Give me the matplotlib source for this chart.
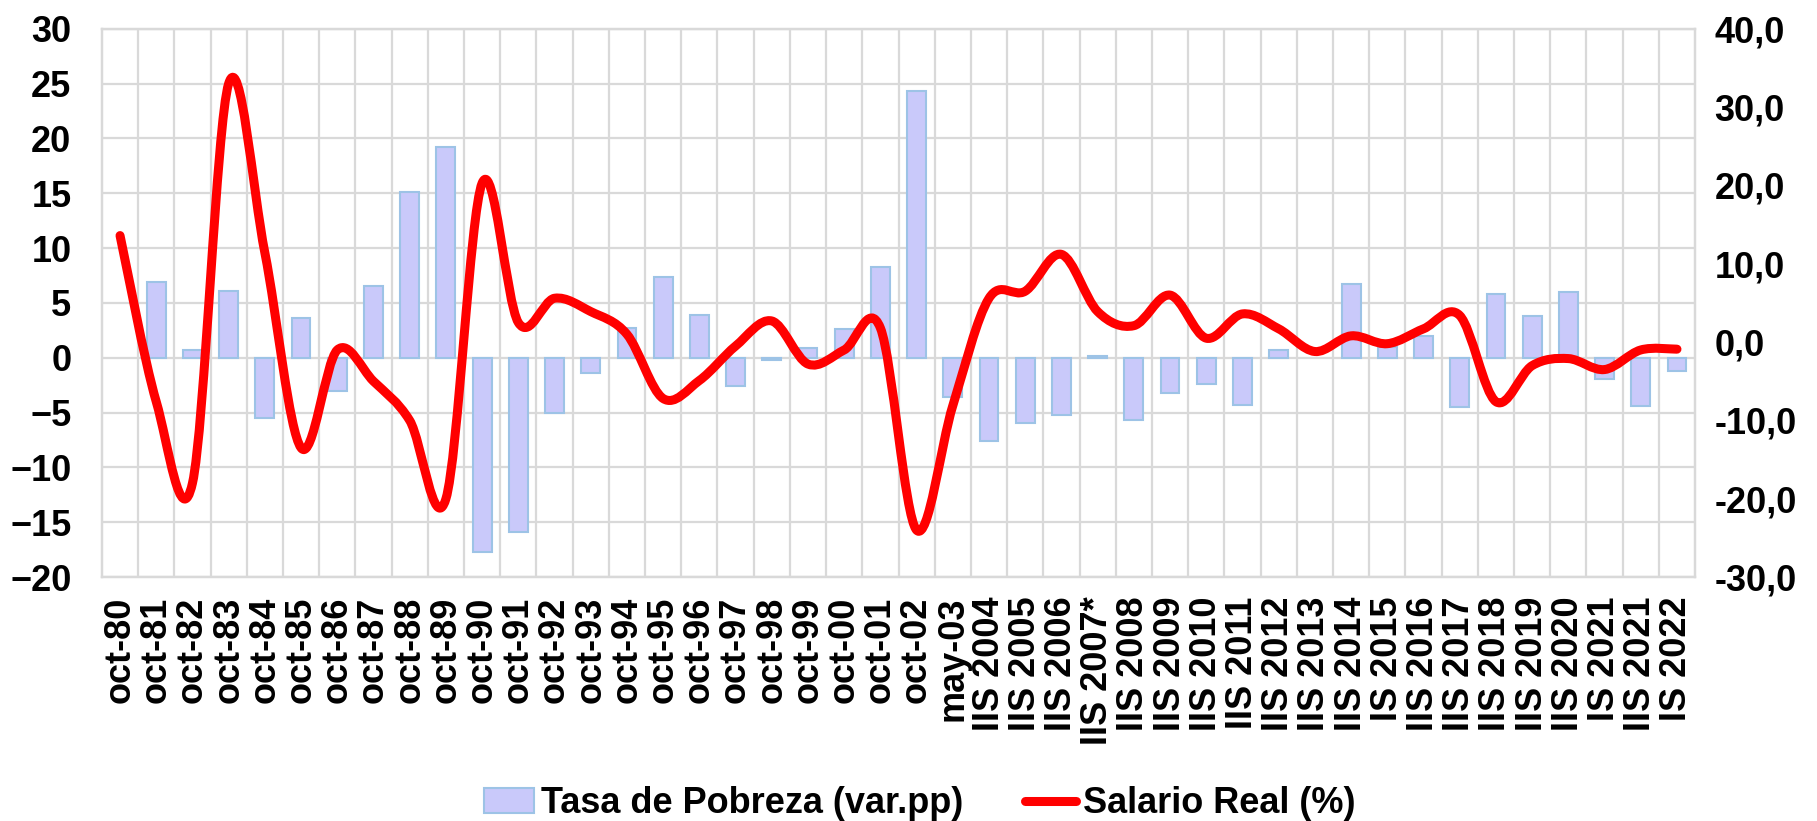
import numpy as np
import matplotlib
matplotlib.use("Agg")
import matplotlib.pyplot as plt
from matplotlib.path import Path
from matplotlib.patches import PathPatch
from matplotlib.lines import Line2D
from matplotlib.ticker import FuncFormatter, MultipleLocator

plt.rcParams["font.family"] = ["Liberation Sans", "DejaVu Sans"]
plt.rcParams["font.weight"] = "bold"

categories = [
    "oct-80", "oct-81", "oct-82", "oct-83", "oct-84", "oct-85", "oct-86", "oct-87",
    "oct-88", "oct-89", "oct-90", "oct-91", "oct-92", "oct-93", "oct-94", "oct-95",
    "oct-96", "oct-97", "oct-98", "oct-99", "oct-00", "oct-01", "oct-02", "may-03",
    "IIS 2004", "IIS 2005", "IIS 2006", "IIS 2007*", "IIS 2008", "IIS 2009", "IIS 2010",
    "IIS 2011", "IIS 2012", "IIS 2013", "IIS 2014", "IS 2015", "IIS 2016", "IIS 2017",
    "IIS 2018", "IIS 2019", "IIS 2020", "IS 2021", "IIS 2021", "IS 2022",
]

# variacion tasa de pobreza (pp), eje izquierdo
pobreza = [
    np.nan, 6.9, 0.7, 6.1, -5.5, 3.6, -3.0, 6.5, 15.1, 19.2, -17.7, -15.9, -5.0, -1.4,
    2.7, 7.4, 3.9, -2.6, -0.2, 0.9, 2.6, 8.3, 24.3, -3.6, -7.6, -5.9, -5.2, 0.2, -5.7,
    -3.2, -2.4, -4.3, 0.7, np.nan, 6.7, 1.0, 2.0, -4.5, 5.8, 3.8, 6.0, -1.9, -4.4, -1.2,
]

# salario real (%), eje derecho
salario = [
    13.6, -7.6, -18.0, 33.0, 11.4, -13.5, -1.0, -5.0, -10.0, -20.0, 20.3, 2.5, 5.6, 3.9,
    1.0, -7.2, -4.9, -0.5, 2.7, -2.8, -1.0, 1.8, -24.0, -8.1, 5.6, 6.5, 11.2, 3.9, 2.1,
    6.0, 0.5, 3.6, 1.7, -1.2, 0.8, -0.2, 1.7, 3.4, -7.6, -3.0, -2.1, -3.5, -1.0, -0.9,
]

BAR_FILL = "#C9C9FA"
BAR_EDGE = "#9DC3E6"
GRID = "#D9D9D9"
RED = "#FF0000"
FS = 26


def smooth_path(xs, ys):
    """Excel-style smoothed line: cubic Bezier through every point."""
    pts = np.column_stack([xs, ys])
    n = len(pts)
    verts = [pts[0]]
    codes = [Path.MOVETO]
    for i in range(n - 1):
        p0 = pts[max(i - 1, 0)]
        p1 = pts[i]
        p2 = pts[i + 1]
        p3 = pts[min(i + 2, n - 1)]
        verts += [p1 + (p2 - p0) / 6, p2 - (p3 - p1) / 6, p2]
        codes += [Path.CURVE4] * 3
    return Path(verts, codes)


x = np.arange(len(categories))

fig = plt.figure(figsize=(18.17, 8.21), dpi=100)
ax = fig.add_axes([0.0561, 0.297, 0.8768, 0.668])
ax2 = ax.twinx()

ax.bar(x, pobreza, width=0.52, color=BAR_FILL, edgecolor=BAR_EDGE, linewidth=1.5,
       zorder=3, label="Tasa de Pobreza (var.pp)")

ax2.add_patch(PathPatch(smooth_path(x, salario), fill=False, edgecolor=RED, lw=6.5,
                        capstyle="round", joinstyle="round", zorder=4))

ax.set_xlim(-0.5, len(categories) - 0.5)
ax.set_ylim(-20, 30)
ax.yaxis.set_major_locator(MultipleLocator(5))
ax2.set_ylim(-30, 40)
ax2.yaxis.set_major_locator(MultipleLocator(10))
ax2.yaxis.set_major_formatter(FuncFormatter(lambda v, p: f"{v:.1f}".replace(".", ",")))

ax.set_xticks(x)
ax.set_xticklabels(categories, rotation=90, fontsize=FS, fontweight="bold")
ax.set_xticks(x[:-1] + 0.5, minor=True)
ax.grid(True, axis="y", which="major", color=GRID, lw=1.6, zorder=0)
ax.grid(True, axis="x", which="minor", color=GRID, lw=1.6, zorder=0)
ax.set_axisbelow(True)

ax.tick_params(axis="x", which="both", length=0, pad=14)
ax.tick_params(axis="y", length=0, pad=22, labelsize=FS)
ax2.tick_params(axis="y", length=0, pad=14, labelsize=FS)
for lab in ax.get_yticklabels() + ax2.get_yticklabels():
    lab.set_fontweight("bold")

for a in (ax, ax2):
    for s in a.spines.values():
        s.set_color(GRID)
        s.set_linewidth(1.6)

handles = [
    plt.Rectangle((0, 0), 1, 1, facecolor=BAR_FILL, edgecolor=BAR_EDGE, linewidth=1.5),
    Line2D([], [], color=RED, lw=6.5, solid_capstyle="round"),
]
fig.legend(handles, ["Tasa de Pobreza (var.pp)", "Salario Real (%)"], loc="lower center",
           bbox_to_anchor=(0.506, -0.04), ncol=2, frameon=False,
           prop={"size": FS, "weight": "bold"}, handlelength=1.4, handletextpad=0.2,
           columnspacing=1.7)

fig.savefig("out.png", dpi=100)
